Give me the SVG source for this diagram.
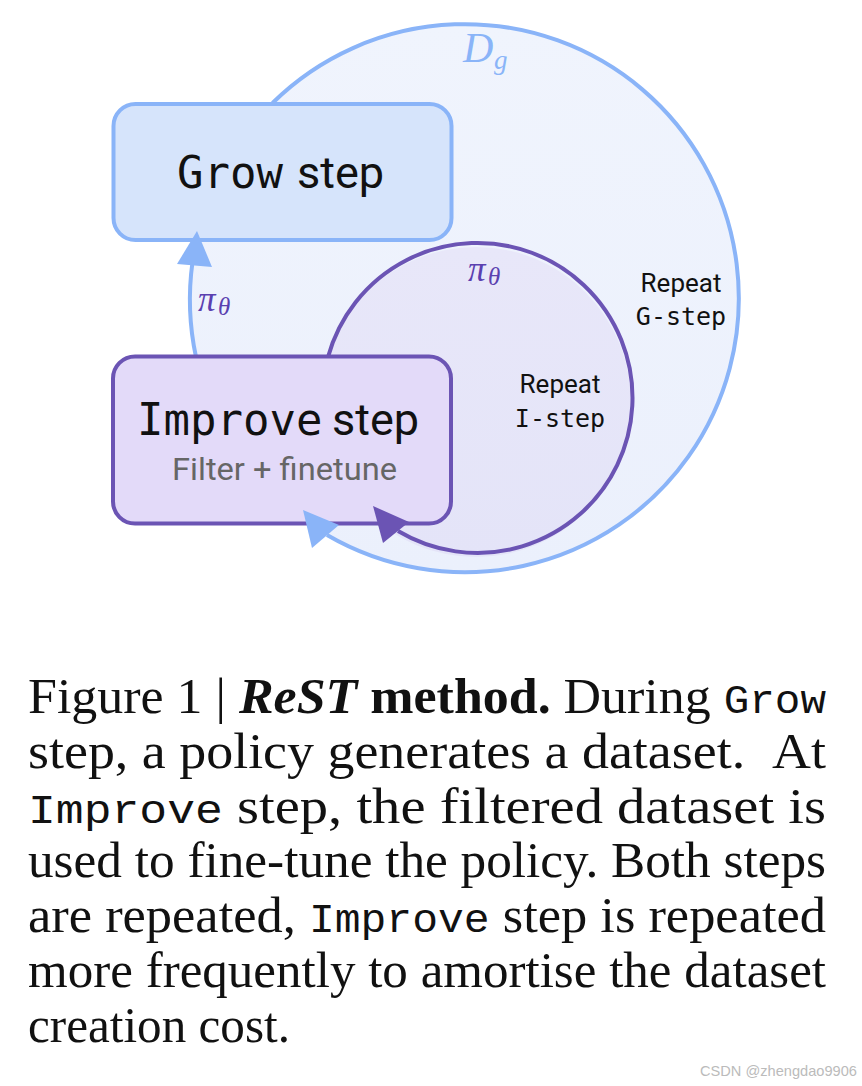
<svg xmlns="http://www.w3.org/2000/svg" width="862" height="1086" viewBox="0 0 862 1086">
<style>
.bluestroke{fill:none;stroke:#8ab4f8;stroke-width:4}
.purplestroke{fill:none;stroke:#6b54b4;stroke-width:4}
.bluehead{fill:#8ab4f8}
.purplehead{fill:#6b54b4}
.mono{font-family:"DejaVu Sans Mono","Liberation Mono",monospace;fill:#111}
.sans{font-family:Roboto,"Liberation Sans",sans-serif;fill:#111}
.math{font-family:"Liberation Serif",serif;font-style:italic}
.cap{font-family:"Liberation Serif",serif;font-size:50px;fill:#111}
.capmono{font-family:"Liberation Mono",monospace;font-size:41px}
</style>
<defs>
<linearGradient id="gBig" x1="0" y1="0" x2="0" y2="1">
<stop offset="0" stop-color="#f0f4fd"/>
<stop offset="1" stop-color="#ebf0fc"/>
</linearGradient>
<linearGradient id="gInner" x1="0" y1="0" x2="0" y2="1">
<stop offset="0" stop-color="#e8e7f9"/>
<stop offset="1" stop-color="#e4e4f8"/>
</linearGradient>
</defs>
<rect x="0" y="0" width="862" height="1086" fill="#ffffff"/>

<g id="cycle-G-region">
<circle cx="464" cy="299" r="274" fill="url(#gBig)"/>
</g>
<g id="cycle-I-region">
<circle cx="476" cy="402" r="155" fill="url(#gInner)"/>
</g>

<g id="connectors">
<path class="bluestroke" d="M272.5,103 A274,274 0 1 1 327,535"/>
<path class="bluestroke" d="M196,357 A274,274 0 0 1 192.5,262"/>
<path class="purplestroke" d="M328,357 A155,155 0 1 1 398,531"/>
</g>

<g id="grow-step">
<rect x="113.5" y="104" width="338" height="136" rx="22" fill="#d6e4fb" stroke="#8ab4f8" stroke-width="4"/>
<text class="mono" x="177" y="188" font-size="44">Grow</text>
<text class="sans" x="297" y="188" font-size="45">step</text>
</g>

<g id="improve-step">
<rect x="113" y="356.5" width="338" height="167" rx="22" fill="#e3daf9" stroke="#6b54b4" stroke-width="4"/>
<text class="mono" x="137" y="435" font-size="44">Improve</text>
<text class="sans" x="332" y="435" font-size="45">step</text>
<text class="sans" x="172" y="480" font-size="31" style="fill:#666666" textLength="225" lengthAdjust="spacingAndGlyphs">Filter + finetune</text>
</g>

<g id="arrowheads">
<polygon class="bluehead" points="197,231 177,264 212,267"/>
<polygon class="bluehead" points="303,510 339,525 312,548"/>
<polygon class="purplehead" points="373,506 409,522 383,543"/>
</g>

<g id="labels">
<text class="math" x="463" y="62" font-size="42" fill="#8ab4f8">D</text>
<text class="math" x="494" y="69" font-size="27" fill="#8ab4f8">g</text>
<text class="math" x="198" y="311" font-size="35" fill="#5a40b0">π</text>
<text class="math" x="218" y="315" font-size="25" fill="#5a40b0">θ</text>
<text class="math" x="468" y="281" font-size="35" fill="#5a40b0">π</text>
<text class="math" x="488" y="285" font-size="25" fill="#5a40b0">θ</text>
<text class="sans" x="681" y="292" font-size="26" text-anchor="middle">Repeat</text>
<text class="mono" x="681" y="325" font-size="25" text-anchor="middle">G-step</text>
<text class="sans" x="560" y="393" font-size="26" text-anchor="middle">Repeat</text>
<text class="mono" x="560" y="427" font-size="25" text-anchor="middle">I-step</text>
</g>

<g id="caption">
<text class="cap" x="28" y="713" textLength="798" lengthAdjust="spacingAndGlyphs">Figure 1 | <tspan font-weight="bold" font-style="italic">ReST</tspan><tspan font-weight="bold"> method.</tspan> During <tspan class="capmono">Grow</tspan></text>
<text class="cap" x="28" y="767.8" textLength="798" lengthAdjust="spacingAndGlyphs">step, a policy generates a dataset. &#160;At</text>
<text class="cap" x="28" y="822.6" textLength="798" lengthAdjust="spacingAndGlyphs"><tspan class="capmono">Improve</tspan> step, the filtered dataset is</text>
<text class="cap" x="28" y="877.4" textLength="798" lengthAdjust="spacingAndGlyphs">used to fine-tune the policy. Both steps</text>
<text class="cap" x="28" y="932.2" textLength="798" lengthAdjust="spacingAndGlyphs">are repeated, <tspan class="capmono">Improve</tspan> step is repeated</text>
<text class="cap" x="28" y="987" textLength="798" lengthAdjust="spacingAndGlyphs">more frequently to amortise the dataset</text>
<text class="cap" x="28" y="1041.8" textLength="262" lengthAdjust="spacingAndGlyphs">creation cost.</text>
<text x="700" y="1076" font-family="'Liberation Sans',sans-serif" font-size="15" fill="#bbbbbb" textLength="157" lengthAdjust="spacingAndGlyphs">CSDN @zhengdao9906</text>
</g>
</svg>
